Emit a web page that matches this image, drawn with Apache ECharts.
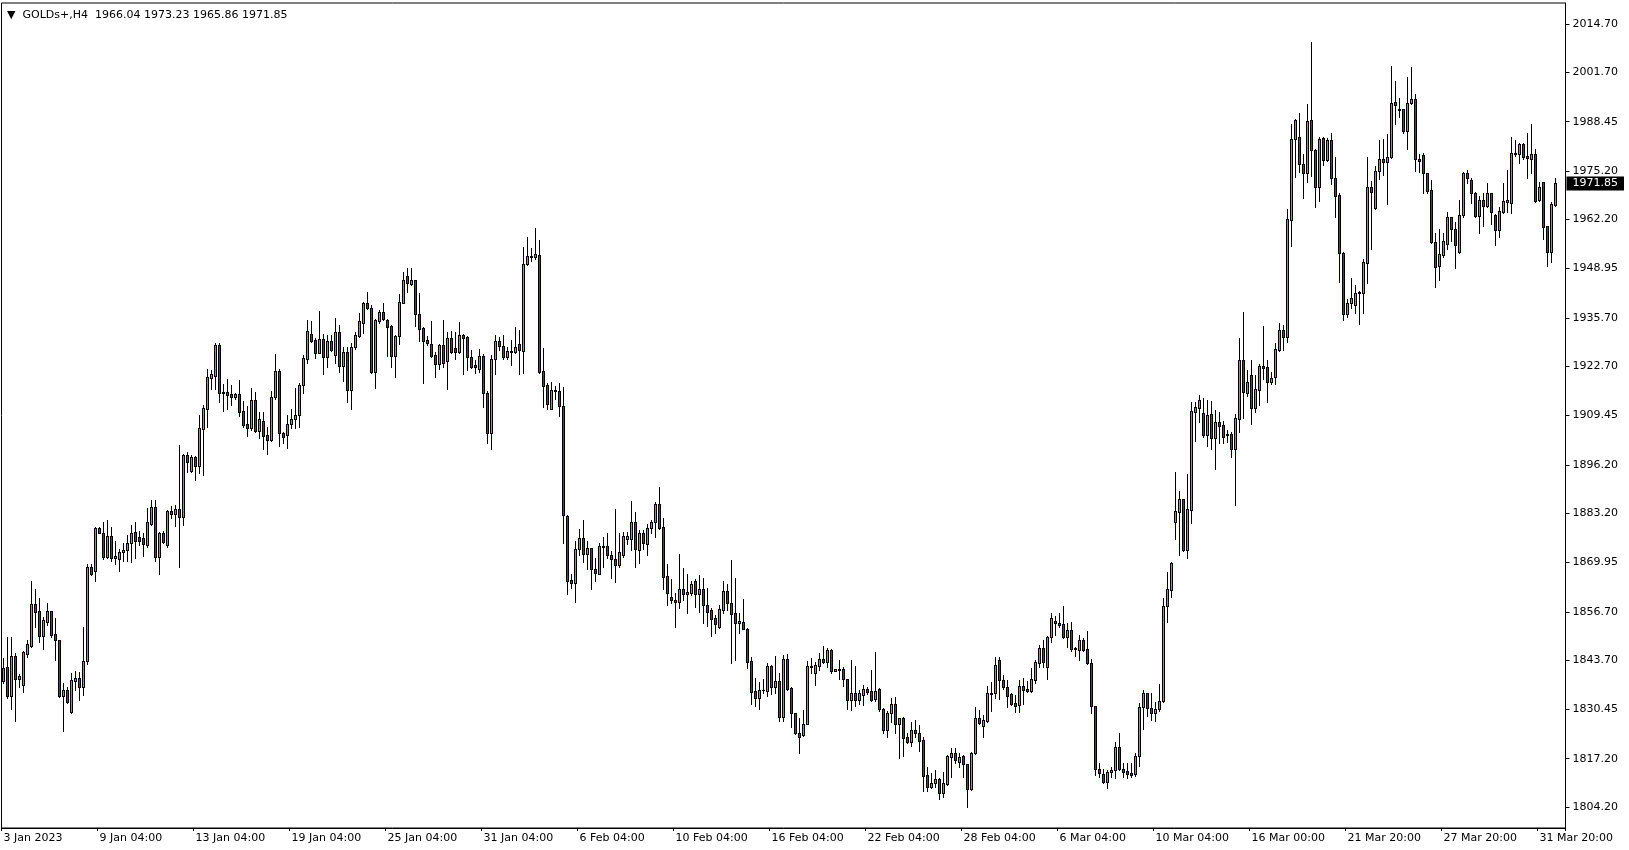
<!DOCTYPE html>
<html><head><meta charset="utf-8">
<script src="https://cdn.jsdelivr.net/npm/echarts@6/dist/echarts.min.js"></script>
<style>html,body{margin:0;padding:0;background:#fff;}#c{width:1629px;height:850px;}</style>
</head><body><div id="c"></div>
<script>
const symbol = 'GOLDs+,H4';
const tickLabels = ['3 Jan 2023','9 Jan 04:00','13 Jan 04:00','19 Jan 04:00','25 Jan 04:00','31 Jan 04:00','6 Feb 04:00','10 Feb 04:00','16 Feb 04:00','22 Feb 04:00','28 Feb 04:00','6 Mar 04:00','10 Mar 04:00','16 Mar 00:00','21 Mar 20:00','27 Mar 20:00','31 Mar 20:00'];
const yTicks = [1804.20,1817.20,1830.45,1843.70,1856.70,1869.95,1883.20,1896.20,1909.45,1922.70,1935.70,1948.95,1962.20,1975.20,1988.45,2001.70,2014.70];

const opens = [
1838.2,1841.8,1834.1,1844.8,1838.7,1836.9,1845.4,1847.5,1858.7,1856.8,1850.3,1854.0,1856.8,1850.6,1849.0,1834.1,1835.8,1829.8,1838.2,1838.9,
1836.6,1843.4,1868.6,1867.6,1879.1,1877.8,1871.5,1877.2,1871.2,1870.8,1872.7,1873.2,1875.2,1878.1,1876.7,1876.4,1874.7,1880.3,1884.8,1871.5,
1877.8,1874.7,1883.8,1883.1,1884.2,1882.3,1898.8,1894.5,1898.2,1896.0,1905.9,1911.1,1919.6,1920.2,1928.4,1915.6,1915.8,1915.2,1914.3,1915.2,
1910.7,1907.2,1906.0,1913.6,1905.3,1907.9,1904.2,1902.8,1914.3,1921.4,1904.7,1904.1,1907.1,1908.4,1909.5,1917.6,1924.7,1931.5,1929.8,1926.3,
1929.9,1925.1,1929.4,1925.8,1931.9,1922.7,1926.5,1916.4,1927.8,1930.7,1934.4,1939.6,1938.4,1921.2,1934.8,1937.2,1935.0,1933.5,1925.4,1930.7,
1939.8,1947.0,1944.8,1945.8,1936.7,1932.9,1929.7,1928.6,1925.7,1923.2,1928.3,1924.0,1930.3,1927.6,1926.4,1931.0,1930.6,1925.3,1923.1,1921.9,
1925.5,1915.6,1904.7,1924.6,1929.5,1928.1,1925.3,1926.4,1926.4,1928.7,1926.7,1950.3,1952.3,1952.0,1952.6,1921.4,1917.7,1911.3,1916.0,1916.0,
1911.9,1882.4,1865.2,1864.5,1873.5,1876.4,1872.1,1873.8,1868.1,1866.9,1874.4,1874.4,1872.0,1870.8,1869.2,1872.0,1876.2,1876.2,1880.7,1873.3,
1877.8,1874.8,1879.1,1880.7,1885.7,1879.4,1866.3,1860.7,1859.9,1859.2,1862.8,1861.4,1861.8,1865.0,1861.4,1862.8,1858.5,1857.1,1855.1,1852.5,
1857.3,1862.3,1859.0,1856.3,1853.6,1853.9,1852.1,1843.5,1835.4,1833.4,1835.8,1835.5,1842.1,1836.4,1838.1,1828.5,1843.9,1836.1,1829.4,1824.0,
1823.5,1826.4,1842.1,1840.3,1842.1,1843.9,1843.3,1846.4,1840.9,1841.2,1841.3,1838.5,1833.0,1834.8,1833.0,1834.2,1835.9,1835.4,1833.3,1835.9,
1830.5,1824.9,1829.6,1831.9,1826.4,1828.1,1822.9,1821.8,1824.9,1824.0,1822.2,1812.8,1809.7,1810.8,1811.7,1807.9,1810.3,1817.6,1818.6,1816.4,
1818.0,1815.8,1809.0,1818.6,1828.1,1826.1,1827.4,1834.8,1834.8,1843.6,1838.3,1836.4,1834.5,1832.1,1831.6,1836.7,1835.9,1835.3,1838.4,1843.0,
1846.9,1841.9,1850.0,1854.1,1853.6,1853.3,1850.0,1851.7,1846.8,1846.3,1849.0,1846.7,1842.8,1831.5,1814.3,1813.0,1810.9,1813.7,1814.2,1820.3,
1814.3,1814.0,1813.3,1813.1,1817.9,1831.1,1834.8,1830.7,1829.4,1830.5,1832.6,1858.3,1862.6,1880.9,1883.6,1887.0,1873.3,1884.0,1910.5,1911.4,
1910.0,1904.2,1909.9,1903.5,1907.6,1906.9,1904.4,1904.5,1900.4,1908.5,1924.4,1915.4,1920.3,1911.4,1916.3,1922.8,1922.4,1918.4,1919.8,1927.1,
1932.4,1930.5,1962.1,1983.7,1984.2,1977.2,1974.7,1988.9,1980.8,1970.8,1984.0,1978.1,1983.5,1973.2,1968.7,1953.2,1936.7,1939.6,1939.2,1942.3,
1942.5,1950.4,1970.8,1965.3,1975.3,1978.4,1977.7,1979.0,1993.7,1991.8,1991.8,1986.0,1993.6,1994.5,1978.4,1979.4,1974.6,1970.1,1956.0,1949.7,
1952.6,1955.5,1962.7,1959.5,1953.5,1963.4,1974.6,1972.9,1969.2,1963.1,1967.4,1965.8,1969.2,1963.4,1959.3,1964.3,1966.8,1966.5,1979.9,1979.8,
1982.4,1979.3,1978.4,1979.7,1967.4,1972.3,1960.4,1953.5,1966.04];
const highs = [
1844.2,1850.0,1850.0,1845.5,1840.0,1846.1,1849.1,1865.1,1862.8,1860.3,1855.4,1859.0,1856.8,1854.9,1849.0,1837.5,1836.6,1840.3,1840.8,1840.6,
1852.7,1869.5,1869.5,1879.6,1879.6,1880.7,1881.4,1879.4,1875.8,1873.5,1875.2,1877.3,1880.0,1880.7,1878.5,1877.8,1884.7,1886.7,1886.7,1878.2,
1878.5,1884.1,1885.0,1885.4,1901.5,1899.0,1899.7,1898.8,1898.6,1909.6,1912.3,1922.0,1921.7,1929.0,1929.0,1917.8,1919.3,1917.7,1915.4,1919.0,
1913.4,1912.1,1916.8,1915.9,1910.5,1910.5,1906.5,1916.0,1926.0,1921.9,1905.1,1909.6,1911.2,1916.8,1918.1,1925.7,1935.1,1934.9,1930.2,1937.5,
1931.4,1931.0,1931.1,1935.8,1933.8,1927.8,1927.8,1929.0,1932.0,1937.0,1940.1,1942.6,1939.2,1935.3,1937.8,1939.6,1935.4,1933.8,1931.1,1942.1,
1948.1,1949.0,1949.0,1945.9,1942.5,1933.3,1930.7,1934.9,1926.4,1928.6,1935.1,1931.9,1932.2,1931.8,1934.6,1931.5,1930.7,1927.1,1924.4,1927.3,
1926.0,1916.0,1925.7,1931.0,1930.6,1931.1,1928.0,1929.8,1933.2,1932.4,1954.7,1957.4,1954.4,1959.8,1956.6,1927.7,1918.1,1918.6,1917.5,1918.1,
1917.0,1882.7,1866.9,1875.8,1878.9,1881.4,1875.8,1873.8,1871.1,1875.3,1876.9,1877.8,1872.9,1884.2,1878.0,1878.2,1878.2,1886.5,1883.4,1878.7,
1878.7,1880.3,1881.5,1886.3,1890.3,1881.8,1869.5,1865.5,1861.7,1872.2,1868.4,1866.9,1865.0,1865.5,1866.6,1865.7,1863.1,1857.6,1855.8,1858.5,
1865.0,1864.2,1870.6,1865.7,1856.3,1860.1,1852.4,1844.6,1838.8,1837.9,1838.5,1842.8,1842.4,1844.8,1840.2,1845.1,1845.3,1836.6,1829.4,1828.1,
1830.3,1843.5,1844.2,1843.3,1845.7,1847.5,1846.9,1846.6,1841.4,1843.7,1841.9,1838.5,1843.7,1842.2,1835.7,1837.0,1836.6,1841.0,1845.8,1836.1,
1830.8,1830.0,1833.6,1833.9,1828.2,1828.3,1824.0,1827.0,1827.6,1826.3,1823.1,1815.1,1813.4,1814.2,1812.1,1813.7,1818.1,1820.0,1820.0,1818.6,
1818.1,1815.9,1819.1,1831.0,1830.3,1828.9,1836.7,1837.9,1844.6,1844.5,1839.7,1838.4,1834.9,1834.3,1838.4,1838.9,1838.2,1841.5,1843.6,1847.8,
1849.1,1850.2,1856.3,1855.6,1856.3,1858.3,1853.8,1853.9,1847.3,1850.5,1849.6,1851.5,1844.0,1831.5,1816.0,1814.3,1814.2,1815.1,1821.6,1824.0,
1816.1,1816.1,1816.0,1818.8,1832.1,1835.7,1834.8,1834.8,1832.5,1837.3,1860.3,1867.3,1870.2,1894.4,1889.2,1887.0,1893.8,1913.0,1913.2,1915.0,
1914.2,1913.6,1913.3,1910.9,1910.5,1908.0,1905.6,1905.1,1909.8,1930.4,1937.4,1921.7,1924.4,1920.3,1923.2,1933.6,1924.4,1921.2,1929.0,1934.2,
1933.8,1965.0,1987.7,1989.2,1990.7,1979.8,1993.2,2009.8,1981.0,1984.2,1984.2,1984.0,1985.3,1979.0,1969.2,1953.5,1940.7,1946.5,1944.5,1942.9,
1951.4,1979.0,1972.6,1976.4,1983.5,1983.7,1985.1,2003.4,1999.4,1994.7,1991.9,2000.4,2003.1,1995.8,1979.8,1979.9,1974.6,1972.8,1958.4,1959.5,
1958.4,1964.3,1962.7,1961.6,1967.4,1975.0,1975.5,1973.2,1969.6,1968.5,1969.2,1972.0,1969.2,1963.5,1965.6,1972.0,1975.4,1984.4,1983.5,1982.6,
1982.6,1985.3,1987.8,1981.0,1972.3,1972.3,1960.4,1966.9,1973.23];
const lows = [
1837.5,1833.4,1830.6,1827.4,1836.4,1835.0,1844.5,1847.3,1852.7,1848.7,1846.8,1853.2,1850.0,1843.6,1833.9,1824.7,1832.3,1829.6,1835.7,1833.0,
1834.3,1842.7,1866.6,1865.1,1877.8,1870.9,1871.1,1870.3,1869.5,1867.7,1870.4,1870.3,1870.2,1871.1,1874.7,1871.8,1874.2,1880.0,1870.4,1866.8,
1875.1,1874.2,1882.0,1879.8,1868.6,1880.0,1894.2,1894.4,1892.1,1893.9,1893.5,1906.5,1916.6,1916.6,1913.0,1910.7,1911.2,1912.3,1913.9,1909.2,
1906.5,1904.0,1905.6,1905.1,1903.5,1900.5,1899.0,1902.7,1913.9,1901.3,1902.2,1900.8,1906.2,1906.0,1906.5,1915.6,1923.5,1929.1,1924.8,1926.2,
1920.5,1922.6,1926.8,1923.7,1921.1,1918.7,1913.2,1911.2,1927.3,1930.6,1931.7,1938.1,1920.8,1916.9,1934.4,1935.0,1925.5,1922.5,1919.7,1928.7,
1939.6,1942.7,1944.5,1933.5,1929.6,1918.3,1928.4,1925.3,1919.7,1922.0,1922.6,1916.5,1926.2,1924.6,1926.3,1920.5,1921.7,1922.1,1920.8,1921.1,
1911.8,1902.2,1900.5,1920.5,1927.1,1924.6,1924.7,1923.0,1926.2,1920.5,1921.0,1949.9,1951.1,1951.4,1921.0,1911.7,1911.1,1911.2,1913.8,1909.4,
1875.1,1861.4,1863.1,1859.4,1872.0,1870.0,1868.1,1862.9,1865.1,1866.8,1868.8,1871.1,1865.7,1864.8,1868.8,1871.3,1874.8,1873.3,1868.8,1869.7,
1873.7,1872.0,1877.8,1876.7,1878.9,1862.7,1858.5,1859.0,1852.7,1857.6,1859.9,1856.3,1861.2,1857.9,1856.7,1853.8,1852.9,1850.3,1851.1,1852.3,
1856.3,1857.2,1843.0,1843.6,1851.1,1852.0,1841.7,1831.8,1831.4,1830.5,1834.8,1834.1,1834.5,1834.9,1827.4,1827.4,1835.7,1825.8,1823.8,1818.6,
1823.3,1826.4,1840.3,1837.0,1841.0,1842.8,1841.9,1840.3,1840.8,1838.5,1836.8,1830.5,1830.3,1831.4,1831.8,1831.6,1834.6,1832.8,1832.7,1830.1,
1824.0,1822.9,1827.0,1824.0,1817.3,1817.9,1821.5,1820.6,1823.1,1819.4,1808.6,1808.6,1809.2,1809.5,1806.3,1807.0,1810.0,1812.4,1816.1,1815.1,
1812.2,1804.3,1808.8,1818.5,1826.5,1822.9,1827.1,1830.1,1833.4,1833.3,1836.0,1831.0,1831.7,1829.8,1829.8,1832.0,1835.1,1835.1,1837.6,1841.8,
1841.8,1838.6,1848.7,1850.5,1852.7,1849.7,1847.1,1846.2,1844.9,1843.7,1846.2,1842.6,1829.6,1812.8,1812.4,1810.6,1809.2,1812.4,1812.1,1814.2,
1812.4,1811.9,1812.4,1812.6,1815.2,1825.2,1828.7,1827.6,1827.4,1830.1,1832.4,1853.9,1860.8,1876.3,1872.0,1873.0,1871.1,1880.6,1902.6,1907.6,
1903.8,1901.3,1900.4,1895.1,1902.2,1902.1,1902.4,1898.4,1885.4,1905.1,1908.9,1914.7,1907.2,1910.5,1912.3,1919.4,1913.2,1917.9,1917.8,1926.8,
1927.0,1929.1,1955.1,1973.7,1975.0,1968.0,1972.3,1973.9,1965.6,1967.2,1976.8,1978.0,1971.7,1962.9,1945.3,1935.1,1935.9,1938.3,1936.9,1934.1,
1936.9,1945.0,1954.1,1965.1,1973.0,1974.1,1966.3,1978.6,1987.8,1989.6,1985.3,1981.1,1993.2,1975.3,1975.0,1969.4,1969.2,1955.7,1943.9,1945.9,
1952.2,1954.1,1956.5,1949.0,1953.2,1962.9,1971.9,1966.7,1962.9,1958.6,1960.4,1965.6,1960.9,1955.3,1957.5,1964.0,1964.3,1964.0,1979.2,1977.4,
1978.3,1973.2,1974.6,1966.9,1967.1,1956.8,1949.7,1950.8,1965.86];
const closes = [
1841.7,1834.1,1844.8,1838.7,1839.4,1845.9,1847.9,1858.7,1856.7,1850.3,1854.4,1856.8,1850.5,1849.0,1834.1,1835.8,1832.5,1838.3,1838.9,1836.6,
1843.4,1868.6,1866.8,1879.1,1878.0,1871.5,1877.1,1871.1,1871.7,1872.8,1873.2,1875.2,1878.0,1875.7,1875.7,1874.8,1880.7,1884.8,1871.5,1877.8,
1875.4,1883.8,1883.1,1884.2,1882.3,1898.8,1896.9,1898.2,1896.0,1906.1,1911.4,1919.7,1920.5,1928.4,1915.6,1915.8,1915.1,1914.3,1915.2,1910.5,
1906.9,1906.2,1913.6,1905.3,1908.4,1904.0,1902.8,1914.3,1921.4,1904.7,1903.8,1907.1,1908.4,1909.5,1917.7,1924.8,1932.1,1929.6,1926.3,1929.9,
1925.1,1929.4,1927.2,1931.9,1922.7,1926.5,1916.4,1927.8,1931.1,1934.8,1939.6,1938.3,1921.1,1935.0,1937.2,1935.3,1933.3,1925.5,1930.8,1940.0,
1945.8,1945.2,1945.8,1936.7,1932.6,1929.6,1928.9,1925.5,1923.2,1928.3,1923.5,1930.3,1926.4,1926.4,1931.0,1930.4,1925.3,1922.6,1922.6,1925.5,
1915.4,1904.7,1924.6,1929.5,1928.2,1925.3,1926.8,1926.8,1927.8,1927.2,1950.1,1952.3,1952.0,1952.8,1921.2,1917.5,1912.6,1916.2,1916.3,1911.9,
1882.6,1865.1,1864.5,1873.5,1876.4,1872.1,1873.8,1868.1,1867.0,1874.4,1874.2,1872.0,1870.8,1869.2,1872.7,1877.1,1877.1,1880.7,1873.5,1877.8,
1875.1,1879.1,1880.7,1885.7,1879.3,1866.1,1861.7,1859.8,1859.2,1862.8,1861.4,1862.1,1864.1,1861.4,1862.8,1858.4,1856.6,1854.8,1853.3,1857.4,
1862.3,1859.0,1856.2,1853.6,1854.2,1852.2,1843.3,1835.2,1833.4,1835.8,1835.7,1842.1,1836.4,1838.1,1828.5,1844.0,1835.9,1829.4,1824.0,1823.1,
1826.4,1842.1,1841.8,1842.3,1843.9,1843.3,1846.4,1840.9,1841.2,1841.0,1838.5,1833.0,1834.8,1833.0,1834.8,1835.9,1835.0,1833.0,1835.5,1830.5,
1824.9,1829.6,1831.9,1826.4,1828.1,1822.7,1821.8,1824.9,1824.0,1822.0,1812.6,1809.7,1810.8,1811.7,1807.9,1810.8,1817.9,1818.6,1816.8,1817.6,
1815.8,1809.0,1818.6,1828.1,1826.7,1827.6,1834.8,1834.7,1842.3,1838.3,1836.4,1834.1,1831.9,1831.5,1836.7,1835.8,1835.5,1838.5,1843.2,1846.9,
1843.3,1850.0,1854.9,1853.6,1853.1,1850.0,1851.7,1846.8,1847.0,1849.0,1846.4,1842.8,1831.5,1814.3,1813.3,1810.9,1813.7,1814.2,1820.3,1814.3,
1813.5,1813.0,1812.8,1817.9,1831.2,1834.8,1830.7,1829.4,1830.5,1832.7,1858.3,1862.7,1869.7,1883.8,1887.0,1873.3,1884.3,1910.7,1911.7,1913.6,
1904.2,1909.6,1903.5,1907.6,1906.6,1903.8,1904.3,1900.4,1908.7,1924.4,1915.7,1918.4,1911.4,1916.5,1922.8,1922.3,1918.4,1919.5,1927.3,1932.4,
1930.6,1962.3,1983.8,1988.9,1977.1,1974.7,1988.6,1980.7,1970.8,1983.8,1978.1,1983.5,1973.2,1968.6,1953.1,1936.7,1939.6,1941.0,1942.3,1942.6,
1950.6,1970.8,1969.5,1975.3,1978.3,1977.7,1979.0,1993.4,1992.8,1991.6,1986.0,1993.6,1994.5,1978.3,1978.0,1974.6,1969.9,1956.0,1949.3,1952.9,
1956.4,1962.7,1959.5,1955.3,1963.4,1974.6,1973.2,1969.2,1963.1,1967.4,1965.8,1969.2,1964.3,1959.3,1964.5,1967.2,1967.4,1979.9,1979.8,1982.4,
1979.0,1978.6,1979.7,1967.2,1971.0,1960.2,1953.5,1966.3,1971.85];

const barsPerLabel = 24;
const emptySlotsRight = 2;

const n = opens.length;
const categories = Array.from({length: n + emptySlotsRight}, (_, i) => String(i));
const rows = opens.map((o, i) => [i, o, closes[i], lows[i], highs[i]]);
const last = n - 1;
const lastClose = closes[last];
const header = symbol + '  ' + [opens[last], highs[last], lows[last], closes[last]].map(v => v.toFixed(2)).join(' ');
const isLabelIdx = (i) => i % barsPerLabel === 0 && (i / barsPerLabel) < tickLabels.length;

const FONT = 'DejaVu Sans';
const BULL = '#1fe01f';
const BEAR = '#ee0000';
const Y_MIN = 1798.57, Y_MAX = 2020.35;

function renderCandle(params, api) {
  const i = api.value(0);
  const o = api.value(1), c = api.value(2), l = api.value(3), h = api.value(4);
  const xc = api.coord([i, o])[0];
  const px = Math.floor(xc);
  const yHigh = Math.round(api.coord([i, h])[1]);
  const yLow = Math.round(api.coord([i, l])[1]);
  const yTop = Math.round(api.coord([i, Math.max(o, c)])[1]);
  const yBot = Math.round(api.coord([i, Math.min(o, c)])[1]);
  const children = [
    {type: 'rect', shape: {x: px, y: yHigh, width: 1, height: Math.max(1, yLow - yHigh + 1)}, style: {fill: '#000'}},
    {type: 'rect', shape: {x: px - 1, y: yTop, width: 3, height: Math.max(1, yBot - yTop + 1)}, style: {fill: '#000'}}
  ];
  if (yBot - yTop >= 2) {
    children.push({type: 'rect', shape: {x: px, y: yTop + 1, width: 1, height: yBot - yTop - 1},
      style: {fill: c >= o ? BULL : BEAR}});
  }
  return {type: 'group', children: children};
}

const chart = echarts.init(document.getElementById('c'), null, {renderer: 'canvas'});
chart.setOption({
  animation: false,
  backgroundColor: '#ffffff',
  title: {
    text: '▼  ' + header,
    left: 2, top: 5,
    textStyle: {fontFamily: FONT, fontSize: 11, fontWeight: 'normal', color: '#000'}
  },
  grid: {left: 1.5, right: 63.5, top: 3, bottom: 22, show: true, borderColor: '#000', borderWidth: 1, backgroundColor: '#fff'},
  xAxis: {
    type: 'category',
    data: categories,
    boundaryGap: true,
    axisLine: {show: true, lineStyle: {color: '#000', width: 1}},
    axisTick: {show: true, interval: (i) => isLabelIdx(i), length: 3, lineStyle: {color: '#000'}},
    axisLabel: {
      show: true,
      interval: (i) => isLabelIdx(i),
      formatter: (v, i) => isLabelIdx(i) ? tickLabels[i / barsPerLabel] : '',
      align: 'left',
      margin: 5,
      fontFamily: FONT, fontSize: 11, color: '#000'
    },
    splitLine: {show: false}
  },
  yAxis: [{
    type: 'value',
    position: 'right',
    min: Y_MIN,
    max: Y_MAX,
    axisLine: {show: true, lineStyle: {color: '#000', width: 1}},
    axisTick: {show: true, customValues: yTicks, length: 4, lineStyle: {color: '#000'}},
    axisLabel: {
      show: true,
      customValues: yTicks,
      formatter: (v) => Number(v).toFixed(2),
      margin: 7,
      fontFamily: FONT, fontSize: 11, color: '#000'
    },
    splitLine: {show: false}
  }, {
    type: 'value',
    position: 'right',
    min: Y_MIN,
    max: Y_MAX,
    z: 10,
    axisLine: {show: false},
    axisTick: {show: false},
    splitLine: {show: false},
    axisLabel: {
      show: true,
      customValues: [lastClose],
      formatter: (v) => Number(v).toFixed(2),
      margin: 1,
      backgroundColor: '#000',
      color: '#fff',
      padding: [1, 6, 1, 6],
      lineHeight: 12,
      fontFamily: FONT, fontSize: 11
    }
  }],
  series: [{
    type: 'custom',
    renderItem: renderCandle,
    data: rows,
    encode: {x: 0, y: [1, 2, 3, 4]},
    clip: true
  }]
});
</script>
</body></html>
